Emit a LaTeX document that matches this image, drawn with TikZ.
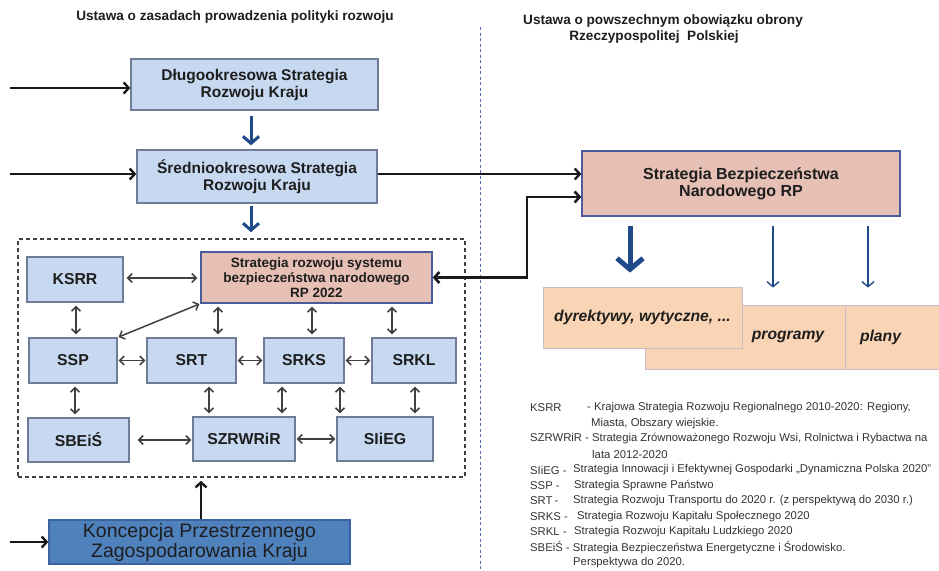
\documentclass[tikz,border=0pt]{standalone}
\usepackage{fontspec}
\setmainfont{Liberation Sans}
\usetikzlibrary{arrows.meta,calc}
\definecolor{lblue}{HTML}{C6D9F0}
\definecolor{bbord}{HTML}{6F7C98}
\definecolor{pinkf}{HTML}{E6BFB5}
\definecolor{pbord}{HTML}{4B5B9B}
\definecolor{peach}{HTML}{FAD5B5}
\definecolor{peachb}{HTML}{C9BCC8}
\definecolor{dkblue}{HTML}{4F81BD}
\definecolor{dkbord}{HTML}{3A63A0}
\definecolor{arrblue}{HTML}{1F4A8A}
\definecolor{divblue}{HTML}{5B6DB0}
\definecolor{txt}{HTML}{1E1E1E}
\definecolor{legtxt}{HTML}{333333}
\tikzset{
  bluebox/.style={draw=bbord, fill=lblue, line width=1.3pt, inner sep=0pt, align=center, text=txt,
    font=\bfseries\fontsize{15.8}{17}\selectfont},
  topbox/.style={bluebox, font=\bfseries\fontsize{15.5}{17}\selectfont},
  pinkbox/.style={draw=pbord, fill=pinkf, line width=1.3pt, inner sep=0pt, align=center, text=txt},
  peachbox/.style={draw=peachb, fill=peach, line width=0.8pt, inner sep=0pt, align=center, text=txt,
    font=\bfseries\itshape\fontsize{15.7}{17}\selectfont},
  dkbox/.style={draw=dkbord, fill=dkblue, line width=1.3pt, inner sep=0pt, align=center, text=txt,
    font=\fontsize{19.5}{20}\selectfont},
  dashbox/.style={draw=black!75, line width=1.6pt, dash pattern=on 4pt off 3pt, inner sep=0pt},
  dbl/.style={draw=black!75, line width=1.5pt, {Straight Barb[length=4.5pt,width=9pt]}-{Straight Barb[length=4.5pt,width=9pt]}, shorten <=3pt, shorten >=3pt},
  blkarr/.style={draw=black!90, line width=2.4pt, -{Straight Barb[length=5pt,width=11pt]}},
  blkdbl/.style={draw=black!90, line width=2.6pt, {Straight Barb[length=5pt,width=11pt]}-{Straight Barb[length=5pt,width=11pt]}},
  bluearr/.style={draw=arrblue, line width=3pt, -{Straight Barb[length=7pt,width=16pt]}},
  bigbluearr/.style={draw=arrblue, line width=5pt, -{Straight Barb[length=11pt,width=26pt]}},
  thinbluearr/.style={draw=arrblue, line width=1.4pt, -{Straight Barb[length=5pt,width=12pt]}},
  titletxt/.style={font=\bfseries\fontsize{13.6}{16}\selectfont, text=txt, align=center, inner sep=0pt},
  legtext/.style={font=\fontsize{11.3}{12}\selectfont, text=legtxt, anchor=west, inner sep=0pt},
}
\begin{document}
\begin{tikzpicture}[x=1pt,y=-1pt]
\useasboundingbox[fill=white] (0,0) rectangle (939,570);

% titles
\node[titletxt] (t1) at (235,17) {Ustawa o zasadach prowadzenia polityki rozwoju};
\node[titletxt, anchor=north] (t2) at (663,14) {Ustawa o powszechnym obowiązku obrony\\\hspace*{-18pt}Rzeczypospolitej\ \ Polskiej};

% divider
\coordinate (dv1) at (480,27);
\coordinate (dv2) at (480,570);
\draw[divblue, line width=1pt, dash pattern=on 3pt off 2.5pt] (dv1) -- (dv2);

% top boxes
\node[topbox, minimum width=247pt, minimum height=51pt] (dlugo) at (254.5,84.5) {Długookresowa Strategia\\Rozwoju Kraju};
\node[topbox, minimum width=240pt, minimum height=53pt] (sred) at (257,176.5) {Średniookresowa Strategia\\Rozwoju Kraju};
\node[pinkbox, minimum width=318pt, minimum height=65pt, font=\bfseries\fontsize{16}{17}\selectfont] (sbn) at (741,183.5) {Strategia Bezpieczeństwa\\Narodowego RP};

% dashed frame
\node[dashbox, minimum width=447pt, minimum height=238pt] (frame) at (241.5,358) {};

% inner boxes
\node[pinkbox, minimum width=231pt, minimum height=51pt, font=\bfseries\fontsize{13.5}{15}\selectfont] (strat) at (316.5,277.5) {Strategia rozwoju systemu\\bezpieczeństwa narodowego\\RP 2022};
\node[bluebox, minimum width=96pt, minimum height=45pt] (ksrr) at (75,279.5) {KSRR};
\node[bluebox, minimum width=88pt, minimum height=45pt] (ssp) at (73,360.5) {SSP};
\node[bluebox, minimum width=89pt, minimum height=45pt] (srt) at (191.5,360.5) {SRT};
\node[bluebox, minimum width=80pt, minimum height=45pt] (srks) at (304,360.5) {SRKS};
\node[bluebox, minimum width=84pt, minimum height=45pt] (srkl) at (414,360.5) {SRKL};
\node[bluebox, minimum width=101pt, minimum height=44pt] (sbeis) at (78.5,440) {SBEiŚ};
\node[bluebox, minimum width=102pt, minimum height=44pt] (szr) at (244,439) {SZRWRiR};
\node[bluebox, minimum width=96pt, minimum height=44pt] (siieg) at (385,439) {SIiEG};

\node[dkbox, minimum width=301pt, minimum height=44pt] (konc) at (199.5,542) {Koncepcja Przestrzennego\\Zagospodarowania Kraju};

% peach boxes
\node[peachbox, minimum width=200pt, minimum height=64pt] (prog) at (745,337) {\hspace*{86pt}programy};
\node[peachbox, minimum width=100pt, minimum height=64pt, text width=90pt, align=left] (plany) at (895,337) {\hspace*{10pt}plany};
\node[peachbox, minimum width=199pt, minimum height=61pt] (dyr) at (642.5,317.5) {dyrektywy, wytyczne, ...};

% incoming arrows on left
\coordinate (in1) at (10,88);
\coordinate (in2) at (10,174);
\coordinate (in3) at (10,542);
\draw[blkarr] (in1) -- (in1 -| dlugo.west);
\draw[blkarr] (in2) -- (in2 -| sred.west);
\draw[blkarr] (in3) -- (in3 -| konc.west);

% blue arrows in left column
\draw[bluearr, shorten <=5pt, shorten >=4pt] ([xshift=-3.5pt]dlugo.south) -- ([xshift=-3.5pt]dlugo.south |- sred.north);
\draw[bluearr, shorten <=2pt, shorten >=6pt] ([xshift=-6pt]sred.south) -- ([xshift=-6pt]sred.south |- frame.north);

% Koncepcja up to frame
\draw[blkarr, shorten <=0pt, shorten >=3pt] ([xshift=1.5pt]konc.north) -- ([xshift=1.5pt]konc.north |- frame.south);

% Srednio -> SBN
\draw[blkarr] ([yshift=2.5pt]sred.east) -- ([yshift=2.5pt]sred.east -| sbn.west);

% strat <-> SBN
\coordinate (bend) at (527,197);
\draw[blkdbl] (strat.east) -| (bend) -- (bend -| sbn.west);

% SBN down arrows
\draw[bigbluearr, shorten <=9pt, shorten >=14pt] ([xshift=-111pt]sbn.south) -- ([xshift=-111pt]sbn.south |- dyr.north);
\draw[thinbluearr, shorten <=9pt, shorten >=17pt] ([xshift=32pt]sbn.south) -- ([xshift=32pt]sbn.south |- prog.north);
\draw[thinbluearr, shorten <=9pt, shorten >=17pt] ([xshift=127pt]sbn.south) -- ([xshift=127pt]sbn.south |- plany.north);

% inner double arrows
\draw[dbl] ([yshift=1.5pt]ksrr.east) -- ([yshift=1.5pt]ksrr.east -| strat.west);
\draw[dbl] ([xshift=1pt]ksrr.south) -- ([xshift=1pt]ksrr.south |- ssp.north);
\draw[dbl, shorten <=1pt, shorten >=1pt] (strat.south west) -- (ssp.north east);
\draw[dbl] ([xshift=26.5pt]srt.north) -- ([xshift=26.5pt]srt.north |- strat.south);
\draw[dbl] ([xshift=8pt]srks.north) -- ([xshift=8pt]srks.north |- strat.south);
\draw[dbl] ([xshift=-22pt]srkl.north) -- ([xshift=-22pt]srkl.north |- strat.south);
\draw[dbl, shorten <=1pt, shorten >=1pt] (ssp.east) -- (srt.west);
\draw[dbl, shorten <=1pt, shorten >=1pt] (srt.east) -- (srks.west);
\draw[dbl, shorten <=1pt, shorten >=1pt] (srks.east) -- (srkl.west);
\draw[dbl] ([xshift=2pt]ssp.south) -- ([xshift=2pt]ssp.south |- sbeis.north);
\draw[dbl] ([xshift=17.5pt]srt.south) -- ([xshift=17.5pt]srt.south |- szr.north);
\draw[dbl] ([xshift=-22pt]srks.south) -- ([xshift=-22pt]srks.south |- szr.north);
\draw[dbl] ([xshift=36pt]srks.south) -- ([xshift=36pt]srks.south |- siieg.north);
\draw[dbl] ([xshift=1pt]srkl.south) -- ([xshift=1pt]srkl.south |- siieg.north);
\draw[dbl, shorten <=8pt, shorten >=1pt] (sbeis.east) -- (sbeis.east -| szr.west);
\draw[dbl, shorten <=1pt, shorten >=1pt] (szr.east) -- (szr.east -| siieg.west);

% legend
\node[legtext] (l1a) at (530,408) {KSRR};
\node[legtext] (l1b) at (587,408) {- Krajowa Strategia Rozwoju Regionalnego 2010-2020: Regiony,};
\node[legtext] (l2) at (591,423.5) {Miasta, Obszary wiejskie.};
\node[legtext] (l3) at (530,439) {SZRWRiR - Strategia Zrównoważonego Rozwoju Wsi, Rolnictwa i Rybactwa na};
\node[legtext] (l4) at (592,454.5) {lata 2012-2020};
\node[legtext] (l5a) at (530,470) {SIiEG -};
\node[legtext] (l5b) at (573,470) {Strategia Innowacji i Efektywnej Gospodarki „Dynamiczna Polska 2020”};
\node[legtext] (l6a) at (530,485.5) {SSP\hspace{3pt}-};
\node[legtext] (l6b) at (574,485.5) {Strategia Sprawne Państwo};
\node[legtext] (l7a) at (530,501) {SRT\hspace{2pt}-};
\node[legtext] (l7b) at (573,501) {Strategia Rozwoju Transportu do 2020 r. (z perspektywą do 2030 r.)};
\node[legtext] (l8a) at (530,516.5) {SRKS -};
\node[legtext] (l8b) at (577,516.5) {Strategia Rozwoju Kapitału Społecznego 2020};
\node[legtext] (l9a) at (530,532) {SRKL -};
\node[legtext] (l9b) at (574,532) {Strategia Rozwoju Kapitału Ludzkiego 2020};
\node[legtext] (l10) at (530,547.5) {SBEiŚ - Strategia Bezpieczeństwa Energetyczne i Środowisko.};
\node[legtext] (l11) at (573,563) {Perspektywa do 2020.};
\end{tikzpicture}
\end{document}
